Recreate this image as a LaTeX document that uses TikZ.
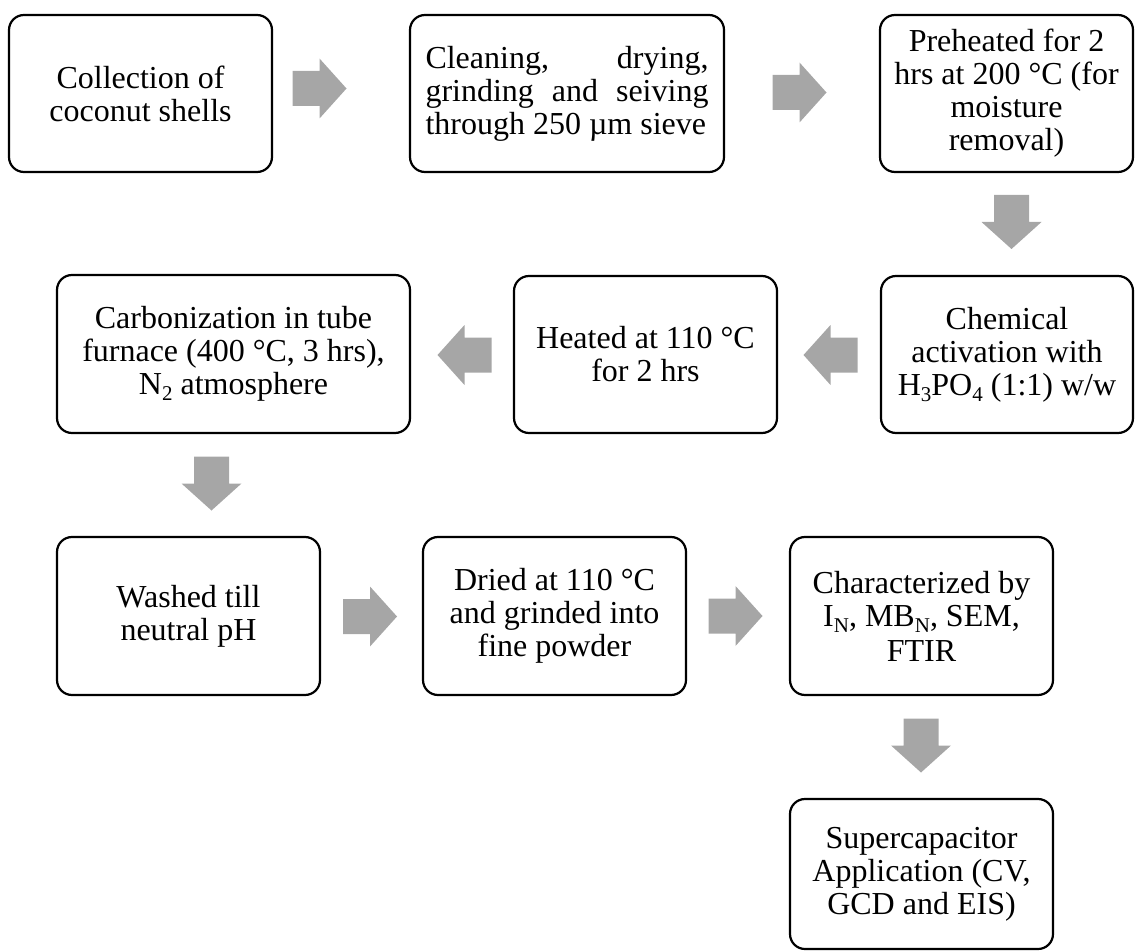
\documentclass[tikz,border=0pt]{standalone}
\usepackage{fontspec}
\setmainfont{Liberation Serif}
\definecolor{arrowgray}{RGB}{166,166,166}
\newcommand\lowsub[1]{\raisebox{-3pt}{\fontsize{10.5}{10.5}\selectfont #1}}
\tikzset{
  stepbox/.style={draw=black, line width=1.1pt, rounded corners=7.5pt, rectangle,
    inner sep=0pt, align=center, minimum width=131.5pt, minimum height=78.5pt,
    font=\fontsize{16}{16.5}\selectfont},
  blockarrow/.pic={\fill[arrowgray] (-27,-17.5) -- (0,-17.5) -- (0,-30) -- (27,0) -- (0,30) -- (0,17.5) -- (-27,17.5) -- cycle;}
}
\begin{document}
\begin{tikzpicture}[x=0.5pt,y=-0.5pt]
\useasboundingbox (0,0) rectangle (1135,952);
% row 1
\node[stepbox] (b1) at (140.5,93.5) {Collection of\\coconut shells};
\node[stepbox, minimum width=157pt] (b2) at (567,93.5) {\parbox{141.5pt}{\makebox[141.5pt][s]{Cleaning, drying,}\\\makebox[141.5pt][s]{grinding and seiving}\\through 250 µm sieve}};
\node[stepbox, minimum width=126.5pt] (b3) at (1006.5,93.5) {Preheated for 2\\hrs at 200 °C (for\\moisture\\removal)};
% row 2
\node[stepbox, minimum width=176.5pt, minimum height=79pt] (b4) at (233.5,354) {Carbonization in tube\\furnace (400 °C, 3 hrs),\\N\lowsub{2} atmosphere};
\node[stepbox] (b5) at (645.5,354.5) {Heated at 110 °C\\for 2 hrs};
\node[stepbox, minimum width=126pt] (b6) at (1007,354.5) {Chemical\\activation with\\H\lowsub{3}PO\lowsub{4} (1:1) w/w};
% row 3
\node[stepbox, minimum height=79pt] (b7) at (188.5,616) {Washed till\\neutral pH};
\node[stepbox, minimum height=79pt] (b8) at (554.5,616) {Dried at 110 °C\\and grinded into\\fine powder};
\node[stepbox, minimum height=79pt] (b9) at (921.5,616) {Characterized by\\I\lowsub{N}, MB\lowsub{N}, SEM,\\[1pt]FTIR};
% row 4
\node[stepbox, minimum height=75pt] (b10) at (921.5,874) {Supercapacitor\\Application (CV,\\GCD and EIS)};
% block arrows
\pic at (319.5,88.5) {blockarrow};
\pic at (799.5,92.5) {blockarrow};
\pic[rotate=-90] at (1011.5,222) {blockarrow};
\pic[rotate=180] at (830.5,355) {blockarrow};
\pic[rotate=180] at (464.5,355) {blockarrow};
\pic[rotate=-90] at (211.5,483.5) {blockarrow};
\pic at (370,616.5) {blockarrow};
\pic at (735.5,616) {blockarrow};
\pic[rotate=-90] at (921,745.5) {blockarrow};
\end{tikzpicture}
\end{document}
